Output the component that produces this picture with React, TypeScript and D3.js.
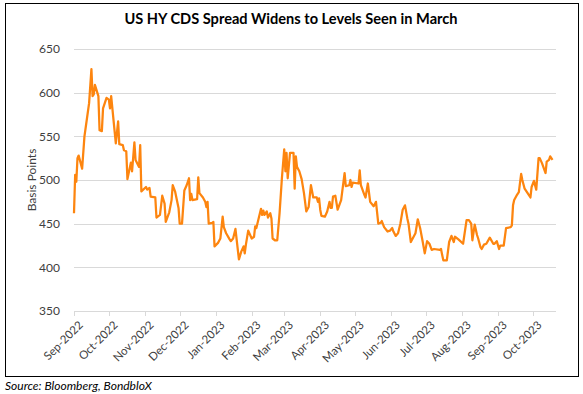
import React, { useEffect, useRef } from "react";
import * as d3 from "d3";

// HY CDS spread, basis points
const dates = [
  "2022-09-01", "2022-09-02", "2022-09-03", "2022-09-04", "2022-09-05", "2022-09-08", "2022-09-10", "2022-09-12",
  "2022-09-14", "2022-09-16", "2022-09-17", "2022-09-18", "2022-09-19", "2022-09-22", "2022-09-23", "2022-09-25",
  "2022-09-26", "2022-09-29", "2022-10-01", "2022-10-02", "2022-10-03", "2022-10-07", "2022-10-09", "2022-10-10",
  "2022-10-13", "2022-10-14", "2022-10-16", "2022-10-17", "2022-10-20", "2022-10-21", "2022-10-23", "2022-10-24",
  "2022-10-27", "2022-10-28", "2022-10-29", "2022-11-02", "2022-11-03", "2022-11-05", "2022-11-06", "2022-11-10",
  "2022-11-11", "2022-11-14", "2022-11-16", "2022-11-18", "2022-11-19", "2022-11-22", "2022-11-24", "2022-11-25",
  "2022-11-27", "2022-11-30", "2022-12-01", "2022-12-03", "2022-12-05", "2022-12-07", "2022-12-09", "2022-12-10",
  "2022-12-11", "2022-12-12", "2022-12-16", "2022-12-17", "2022-12-18", "2022-12-21", "2022-12-23", "2022-12-24",
  "2022-12-25", "2022-12-26", "2022-12-29", "2022-12-30", "2022-12-31", "2023-01-03", "2023-01-05", "2023-01-07",
  "2023-01-08", "2023-01-10", "2023-01-13", "2023-01-14", "2023-01-16", "2023-01-18", "2023-01-21", "2023-01-23",
  "2023-01-25", "2023-01-26", "2023-01-27", "2023-01-29", "2023-02-01", "2023-02-03", "2023-02-04", "2023-02-05",
  "2023-02-09", "2023-02-10", "2023-02-11", "2023-02-12", "2023-02-14", "2023-02-15", "2023-02-17", "2023-02-18",
  "2023-02-19", "2023-02-21", "2023-02-23", "2023-02-25", "2023-02-27", "2023-03-01", "2023-03-02", "2023-03-03",
  "2023-03-04", "2023-03-06", "2023-03-09", "2023-03-10", "2023-03-11", "2023-03-12", "2023-03-14", "2023-03-16",
  "2023-03-18", "2023-03-20", "2023-03-22", "2023-03-24", "2023-03-26", "2023-03-29", "2023-03-30", "2023-03-31",
  "2023-04-01", "2023-04-02", "2023-04-05", "2023-04-07", "2023-04-09", "2023-04-10", "2023-04-11", "2023-04-12",
  "2023-04-14", "2023-04-16", "2023-04-19", "2023-04-22", "2023-04-23", "2023-04-26", "2023-04-27", "2023-04-28",
  "2023-04-29", "2023-05-04", "2023-05-05", "2023-05-06", "2023-05-09", "2023-05-10", "2023-05-12", "2023-05-14",
  "2023-05-17", "2023-05-19", "2023-05-21", "2023-05-23", "2023-05-24", "2023-05-26", "2023-05-29", "2023-05-31",
  "2023-06-02", "2023-06-03", "2023-06-05", "2023-06-07", "2023-06-09", "2023-06-11", "2023-06-13", "2023-06-15",
  "2023-06-16", "2023-06-18", "2023-06-22", "2023-06-24", "2023-06-26", "2023-06-28", "2023-06-30", "2023-07-02",
  "2023-07-04", "2023-07-06", "2023-07-08", "2023-07-13", "2023-07-14", "2023-07-15", "2023-07-16", "2023-07-19",
  "2023-07-21", "2023-07-23", "2023-07-25", "2023-07-26", "2023-07-29", "2023-08-02", "2023-08-05", "2023-08-07",
  "2023-08-09", "2023-08-10", "2023-08-12", "2023-08-14", "2023-08-15", "2023-08-17", "2023-08-18", "2023-08-20",
  "2023-08-22", "2023-08-25", "2023-08-28", "2023-08-29", "2023-08-31", "2023-09-02", "2023-09-03", "2023-09-06",
  "2023-09-08", "2023-09-12", "2023-09-13", "2023-09-14", "2023-09-15", "2023-09-17", "2023-09-19", "2023-09-21",
  "2023-09-22", "2023-09-24", "2023-09-26", "2023-09-29", "2023-09-30", "2023-10-02", "2023-10-04", "2023-10-06",
  "2023-10-07", "2023-10-09", "2023-10-12", "2023-10-13", "2023-10-15", "2023-10-16", "2023-10-17", "2023-10-18",
];

const spread = [
  462, 506, 498, 525, 528, 513, 550, 569,
  588, 627, 596, 598, 609, 596, 557, 556,
  582, 594, 592, 582, 596, 542, 567, 541,
  540, 534, 533, 501, 520, 510, 543, 523,
  515, 540, 487, 492, 489, 491, 481, 480,
  457, 460, 482, 473, 452, 463, 477, 494,
  487, 468, 450, 450, 488, 494, 502, 477,
  484, 477, 478, 503, 485, 480, 475, 469,
  475, 450, 451, 452, 424, 428, 433, 458,
  446, 439, 432, 430, 433, 444, 409, 418,
  424, 416, 426, 442, 433, 435, 447, 445,
  467, 460, 465, 460, 464, 457, 462, 456,
  433, 431, 431, 462, 502, 535, 510, 531,
  502, 531, 531, 490, 527, 515, 510, 501,
  485, 464, 469, 494, 480, 480, 475, 479,
  466, 459, 458, 464, 475, 468, 468, 481,
  482, 466, 477, 508, 493, 494, 500, 492,
  497, 496, 511, 494, 483, 480, 496, 475,
  470, 475, 450, 451, 453, 446, 441, 442,
  445, 441, 436, 439, 450, 466, 471, 456,
  450, 429, 439, 455, 445, 431, 416, 430,
  427, 420, 421, 420, 421, 414, 408, 408,
  429, 436, 429, 435, 432, 427, 454, 454,
  450, 431, 449, 437, 433, 423, 421, 426,
  427, 434, 427, 427, 430, 421, 425, 425,
  445, 446, 448, 471, 477, 482, 486, 507,
  500, 490, 486, 480, 492, 499, 489, 525,
  525, 519, 508, 521, 523, 527, 525, 523,
];

const yTicks = [350, 400, 450, 500, 550, 600, 650];
const axisStart = "2022-09-01";
const axisEnd = "2023-10-21";

const title = "US HY CDS Spread Widens to Levels Seen in March";
const yLabel = "Basis Points";
const source = "Source: Bloomberg, BondbloX";

const W = 583;
const H = 394;
const margin = { top: 49, right: 27, bottom: 83, left: 74 };
const font = "Lato, 'Open Sans', sans-serif";

export default function App() {
  const gRef = useRef<SVGGElement>(null);

  useEffect(() => {
    document.body.style.margin = "0";
    if (!gRef.current) return;
    const g = d3.select(gRef.current);
    g.selectAll("*").remove();

    const parse = d3.timeParse("%Y-%m-%d");
    const data = dates.map((d, i) => ({ date: parse(d)!, value: spread[i] }));

    const width = W - margin.left - margin.right;
    const height = H - margin.top - margin.bottom;

    const x = d3
      .scaleTime()
      .domain([parse(axisStart)!, parse(axisEnd)!])
      .range([0, width]);
    const y = d3.scaleLinear().domain([350, 650]).range([height, 0]);

    // gridlines
    g.selectAll(".grid")
      .data(yTicks)
      .enter()
      .append("line")
      .attr("x1", 0)
      .attr("x2", width)
      .attr("y1", (d) => Math.round(y(d)) + 0.5)
      .attr("y2", (d) => Math.round(y(d)) + 0.5)
      .style("stroke", "#d9d9d9")
      .style("stroke-width", 1);

    // y labels
    g.selectAll(".ylab")
      .data(yTicks)
      .enter()
      .append("text")
      .attr("x", -14)
      .attr("y", (d) => y(d))
      .attr("dy", "0.35em")
      .attr("text-anchor", "end")
      .style("font-family", font)
      .style("font-size", "12px")
      .style("fill", "#404040")
      .text((d) => d);

    // x axis ticks + labels
    const months = d3.timeMonth.range(parse(axisStart)!, parse(axisEnd)!);
    const fmt = d3.timeFormat("%b-%Y");
    g.selectAll(".xtick")
      .data(months)
      .enter()
      .append("line")
      .attr("x1", (d) => Math.round(x(d)) + 0.5)
      .attr("x2", (d) => Math.round(x(d)) + 0.5)
      .attr("y1", height)
      .attr("y2", height + 5)
      .style("stroke", "#d9d9d9");

    g.selectAll(".xlab")
      .data(months)
      .enter()
      .append("text")
      .attr("transform", (d) => `translate(${x(d) + 4},${height + 9}) rotate(-45)`)
      .attr("text-anchor", "end")
      .attr("dy", "0.7em")
      .style("font-family", font)
      .style("font-size", "11.5px")
      .style("fill", "#404040")
      .text((d) => fmt(d));

    // line
    const line = d3
      .line<{ date: Date; value: number }>()
      .x((d) => x(d.date))
      .y((d) => y(d.value));

    g.append("path")
      .datum(data)
      .attr("d", line)
      .style("fill", "none")
      .style("stroke", "#fd850f")
      .style("stroke-width", 2.25)
      .style("stroke-linejoin", "round");
  }, []);

  return (
    <svg width={W} height={H} style={{ display: "block", background: "#fff" }}>
      <rect x={5.5} y={3.5} width={573} height={373} fill="none" stroke="#000" strokeWidth={1} />
      <text
        x={291}
        y={24}
        textAnchor="middle"
        style={{ fontFamily: font, fontSize: "14.6px", fontWeight: 700, fill: "#000" }}
      >
        {title}
      </text>
      <text
        transform={`translate(36,${margin.top + (H - margin.top - margin.bottom) / 2}) rotate(-90)`}
        textAnchor="middle"
        style={{ fontFamily: font, fontSize: "12px", fill: "#404040" }}
      >
        {yLabel}
      </text>
      <g ref={gRef} transform={`translate(${margin.left},${margin.top})`} />
      <text
        x={5}
        y={390}
        style={{ fontFamily: font, fontSize: "12px", fontStyle: "italic", fill: "#000" }}
      >
        {source}
      </text>
    </svg>
  );
}
